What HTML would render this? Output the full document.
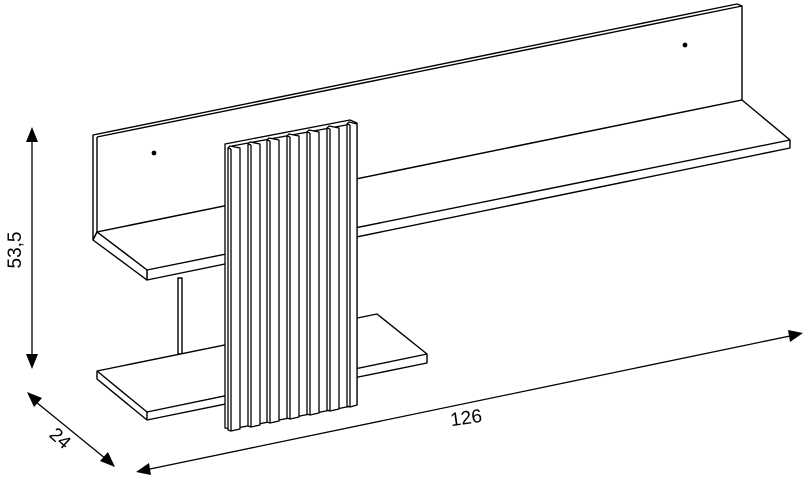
<!DOCTYPE html>
<html><head><meta charset="utf-8"><style>
html,body{margin:0;padding:0;background:#fff}
svg{display:block}
text{font-family:"Liberation Sans",Arial,sans-serif;fill:#000}
</style></head><body>
<svg width="807" height="479" viewBox="0 0 807 479" xmlns="http://www.w3.org/2000/svg">
<g fill="#fff" stroke="#000" stroke-width="1.4" stroke-linejoin="round">
<polygon points="93,135 737,4 742,6 742,100 97,232 93,240"/>
<line x1="97" y1="137" x2="742" y2="6"/>
<line x1="97" y1="137" x2="97" y2="232"/>
<polygon points="97,232 742,100 790,140 790,148 147,280 147,270"/>
<line x1="147" y1="270" x2="790" y2="140"/>
<polygon points="93,240 97,232 147,270 147,280" />
<rect x="178" y="278" width="4" height="76"/>
<polygon points="97,371 377,314 427,354 427,363 147,420 97,379"/>
<line x1="97" y1="371" x2="147" y2="412"/>
<line x1="147" y1="412" x2="427" y2="354"/>
<line x1="147" y1="412" x2="147" y2="420"/>
</g>
<circle cx="154" cy="153" r="2.4" fill="#000"/>
<circle cx="685" cy="45" r="2.4" fill="#000"/>
<g fill="#fff" stroke="#000" stroke-width="1.3" stroke-linejoin="round">
<polygon points="225,144 350,120 357,123 357,405 232,429 225,428"/>
<line x1="232" y1="146" x2="357" y2="123"/>
<line x1="232" y1="146" x2="232" y2="429"/>
</g>
<g fill="#fff" stroke="#000" stroke-width="1.3" stroke-linejoin="round">
<polygon points="228,148 230,146 240,148 240,429 231,431 228,430"/><line x1="231" y1="149" x2="231" y2="431"/><line x1="228" y1="148" x2="231" y2="149"/>
<polygon points="248,144 250,142 260,144 260,425 251,427 248,426"/><line x1="251" y1="145" x2="251" y2="427"/><line x1="248" y1="144" x2="251" y2="145"/>
<polygon points="267,140 269,138 279,140 279,421 270,423 267,422"/><line x1="270" y1="141" x2="270" y2="423"/><line x1="267" y1="140" x2="270" y2="141"/>
<polygon points="287,136 289,134 299,136 299,417 290,419 287,418"/><line x1="290" y1="137" x2="290" y2="419"/><line x1="287" y1="136" x2="290" y2="137"/>
<polygon points="307,132 309,130 319,132 319,413 310,415 307,414"/><line x1="310" y1="133" x2="310" y2="415"/><line x1="307" y1="132" x2="310" y2="133"/>
<polygon points="327,128 329,126 339,128 339,409 330,411 327,410"/><line x1="330" y1="129" x2="330" y2="411"/><line x1="327" y1="128" x2="330" y2="129"/>
<polygon points="347,124 349,122 357,124 357,405 350,407 347,406"/><line x1="350" y1="125" x2="350" y2="407"/><line x1="347" y1="124" x2="350" y2="125"/>
</g>
<g stroke="#000" stroke-width="1.3">
<line x1="32" y1="140" x2="32" y2="356"/>
<line x1="36" y1="402" x2="106" y2="459"/>
<line x1="150" y1="469" x2="790" y2="336"/>
</g>
<g fill="#000">
<polygon points="32,127 26,142 38,142"/>
<polygon points="32,369 26,354 38,354"/>
<polygon points="27,392 42,398 34,407"/>
<polygon points="115,467 100,461 108,452"/>
<polygon points="136,472 149,463 151,475"/>
<polygon points="803,333 788,330 790,342"/>
</g>
<text x="0" y="0" font-size="19" transform="translate(21,250) rotate(-90)" text-anchor="middle">53,5</text>
<text x="0" y="0" font-size="19" transform="translate(56,443) rotate(42)" text-anchor="middle">24</text>
<text x="0" y="0" font-size="19" transform="translate(467,424) rotate(-8)" text-anchor="middle">126</text>
</svg>
</body></html>
